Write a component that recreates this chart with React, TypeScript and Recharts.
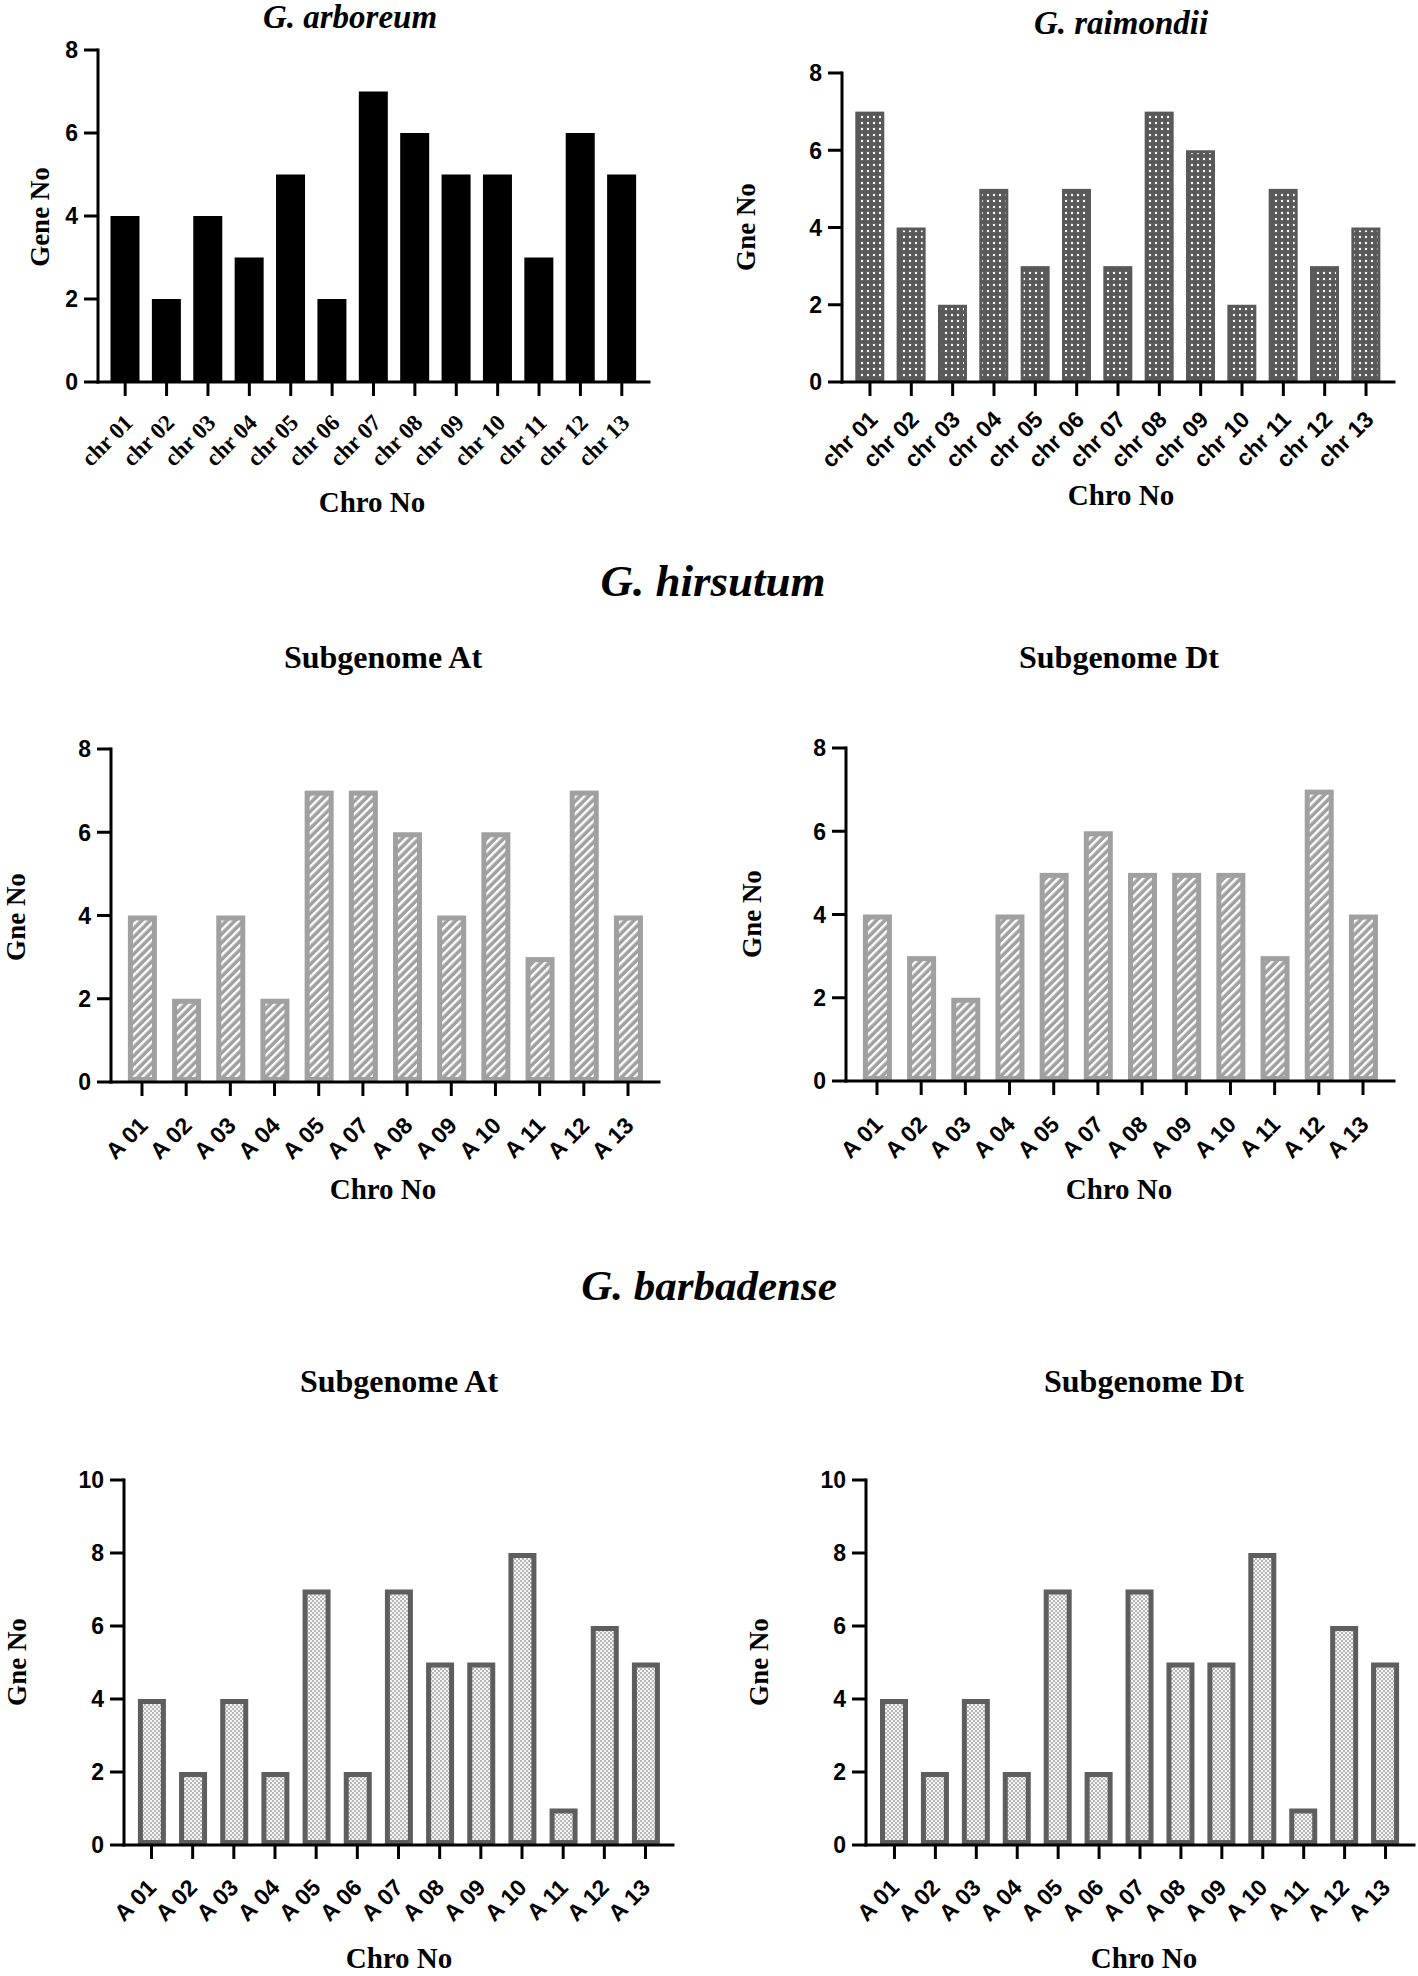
import React from "react";
import { BarChart, Bar, XAxis, YAxis } from "recharts";

// chromosome labels
const chrLabels = ["chr 01", "chr 02", "chr 03", "chr 04", "chr 05", "chr 06", "chr 07", "chr 08", "chr 09", "chr 10", "chr 11", "chr 12", "chr 13"];
const hirsutumLabels = ["A 01", "A 02", "A 03", "A 04", "A 05", "A 07", "A 08", "A 09", "A 10", "A 11", "A 12", "A 13"];
const barbadenseLabels = ["A 01", "A 02", "A 03", "A 04", "A 05", "A 06", "A 07", "A 08", "A 09", "A 10", "A 11", "A 12", "A 13"];

// gene numbers per chromosome
const arboreumGenes = [4, 2, 4, 3, 5, 2, 7, 6, 5, 5, 3, 6, 5];
const raimondiiGenes = [7, 4, 2, 5, 3, 5, 3, 7, 6, 2, 5, 3, 4];
const hirsutumAtGenes = [4, 2, 4, 2, 7, 7, 6, 4, 6, 3, 7, 4];
const hirsutumDtGenes = [4, 3, 2, 4, 5, 6, 5, 5, 5, 3, 7, 4];
const barbadenseAtGenes = [4, 2, 4, 2, 7, 2, 7, 5, 5, 8, 1, 6, 5];
const barbadenseDtGenes = [4, 2, 4, 2, 7, 2, 7, 5, 5, 8, 1, 6, 5];

const ticks8 = [0, 2, 4, 6, 8];
const ticks10 = [0, 2, 4, 6, 8, 10];

const SERIF = '"Liberation Serif", "Times New Roman", serif';
const SANS = '"Liberation Sans", Arial, sans-serif';

type Panel = {
  id: string;
  ox: number;
  oy: number;
  plot: { left: number; right: number; top: number; bottom: number };
  pad: number;
  labels: string[];
  values: number[];
  yMax: number;
  ticks: number[];
  barWidth: number;
  fill: string;
  stroke: string;
  strokeWidth: number;
  tickFont: string;
  labelShift: [number, number];
};

const panels: Panel[] = [
  { id: "arb", ox: 0, oy: 0, plot: { left: 98, right: 649, top: 50, bottom: 382 }, pad: 6.5, labels: chrLabels, values: arboreumGenes, yMax: 8, ticks: ticks8, barWidth: 29, fill: "#000", stroke: "#000", strokeWidth: 0, tickFont: SERIF, labelShift: [9, 26] },
  { id: "rai", ox: 709, oy: 0, plot: { left: 842, right: 1394, top: 73, bottom: 382 }, pad: 7.3, labels: chrLabels, values: raimondiiGenes, yMax: 8, ticks: ticks8, barWidth: 29, fill: "url(#dotsDark)", stroke: "#595959", strokeWidth: 3, tickFont: SANS, labelShift: [9, 23] },
  { id: "hAt", ox: 0, oy: 700, plot: { left: 111, right: 659, top: 749, bottom: 1082 }, pad: 8.9, labels: hirsutumLabels, values: hirsutumAtGenes, yMax: 8, ticks: ticks8, barWidth: 29, fill: "url(#hatch)", stroke: "#a0a0a0", strokeWidth: 5, tickFont: SANS, labelShift: [7, 29] },
  { id: "hDt", ox: 709, oy: 700, plot: { left: 846, right: 1394, top: 748, bottom: 1081 }, pad: 8.9, labels: hirsutumLabels, values: hirsutumDtGenes, yMax: 8, ticks: ticks8, barWidth: 29, fill: "url(#hatch)", stroke: "#a0a0a0", strokeWidth: 5, tickFont: SANS, labelShift: [7, 29] },
  { id: "bAt", ox: 0, oy: 1400, plot: { left: 124, right: 673, top: 1480, bottom: 1845 }, pad: 6.9, labels: barbadenseLabels, values: barbadenseAtGenes, yMax: 10, ticks: ticks10, barWidth: 28, fill: "url(#stipple)", stroke: "#5e5e5e", strokeWidth: 5, tickFont: SANS, labelShift: [6, 28] },
  { id: "bDt", ox: 709, oy: 1400, plot: { left: 866, right: 1414, top: 1480, bottom: 1845 }, pad: 8, labels: barbadenseLabels, values: barbadenseDtGenes, yMax: 10, ticks: ticks10, barWidth: 28, fill: "url(#stipple)", stroke: "#5e5e5e", strokeWidth: 5, tickFont: SANS, labelShift: [6, 28] },
];

type Caption = { text: string; x: number; y: number; size: number; italic?: boolean; rotate?: boolean };

const captions: Caption[] = [
  { text: "G. arboreum", x: 350, y: 17, size: 33, italic: true },
  { text: "G. raimondii", x: 1121, y: 23, size: 33, italic: true },
  { text: "Gene No", x: 40, y: 217, size: 27, rotate: true },
  { text: "Gne No", x: 746, y: 227, size: 27, rotate: true },
  { text: "Chro No", x: 372, y: 502, size: 29 },
  { text: "Chro No", x: 1121, y: 495, size: 29 },
  { text: "G. hirsutum", x: 713, y: 581, size: 45, italic: true },
  { text: "Subgenome At", x: 383, y: 657, size: 32 },
  { text: "Subgenome Dt", x: 1119, y: 657, size: 32 },
  { text: "Gne No", x: 16, y: 917, size: 27, rotate: true },
  { text: "Gne No", x: 752, y: 914, size: 27, rotate: true },
  { text: "Chro No", x: 383, y: 1189, size: 29 },
  { text: "Chro No", x: 1119, y: 1189, size: 29 },
  { text: "G. barbadense", x: 709, y: 1285, size: 43, italic: true },
  { text: "Subgenome At", x: 399, y: 1381, size: 32 },
  { text: "Subgenome Dt", x: 1144, y: 1381, size: 32 },
  { text: "Gne No", x: 17, y: 1662, size: 27, rotate: true },
  { text: "Gne No", x: 759, y: 1662, size: 27, rotate: true },
  { text: "Chro No", x: 399, y: 1958, size: 29 },
  { text: "Chro No", x: 1144, y: 1958, size: 29 },
];

function GenePanel({ p }: { p: Panel }) {
  const data = p.labels.map((name, i) => ({ name, genes: p.values[i] }));
  const w = 709;
  const xAxisH = 100;
  const h = p.plot.bottom - p.oy + xAxisH;
  const sw = p.strokeWidth;
  const [dx, dy] = p.labelShift;

  const renderXTick = (props: any) => {
    const { x, y, payload } = props;
    return (
      <g transform={`translate(${x},${y})`}>
        <text
          textAnchor="end"
          transform={`translate(${dx},${dy}) rotate(-45)`}
          fontFamily={p.tickFont}
          fontWeight="bold"
          fontSize={23}
          fill="#000"
        >
          {payload.value}
        </text>
      </g>
    );
  };

  const renderYTick = (props: any) => {
    const { x, y, payload } = props;
    return (
      <text x={x} y={y} dy="0.36em" textAnchor="end" fontFamily={SANS} fontWeight="bold" fontSize={23} fill="#000">
        {payload.value}
      </text>
    );
  };

  const renderBar = (props: any) => {
    const { x, y, width, height } = props;
    if (!height) return <g />;
    return (
      <rect
        x={x + sw / 2}
        y={y + sw / 2}
        width={Math.max(width - sw, 0)}
        height={Math.max(height - sw, 0)}
        fill={p.fill}
        stroke={sw ? p.stroke : "none"}
        strokeWidth={sw}
      />
    );
  };

  return (
    <div style={{ position: "absolute", left: p.ox, top: p.oy }}>
      <BarChart
        width={w}
        height={h}
        data={data}
        margin={{ top: p.plot.top - p.oy, right: p.ox + w - p.plot.right, left: 0, bottom: 0 }}
      >
        <XAxis
          dataKey="name"
          interval={0}
          height={xAxisH}
          padding={{ left: p.pad, right: p.pad }}
          tickSize={14}
          tickMargin={2}
          tick={renderXTick}
          axisLine={{ stroke: "#000", strokeWidth: 3, strokeLinecap: "square" }}
          tickLine={{ stroke: "#000", strokeWidth: 3 }}
        />
        <YAxis
          type="number"
          width={p.plot.left - p.ox}
          domain={[0, p.yMax]}
          ticks={p.ticks}
          interval={0}
          tickSize={14}
          tickMargin={6}
          tick={renderYTick}
          axisLine={{ stroke: "#000", strokeWidth: 3, strokeLinecap: "square" }}
          tickLine={{ stroke: "#000", strokeWidth: 3 }}
        />
        <Bar dataKey="genes" barSize={p.barWidth} isAnimationActive={false} shape={renderBar} />
      </BarChart>
    </div>
  );
}

export default function App() {
  return (
    <div style={{ position: "relative", width: 1418, height: 1976, background: "#fff", overflow: "hidden" }}>
      <style>{"body{margin:0}"}</style>
      <svg width={0} height={0} style={{ position: "absolute" }}>
        <defs>
          <pattern id="dotsDark" width={6} height={6} patternUnits="userSpaceOnUse">
            <rect width={6} height={6} fill="#595959" />
            <circle cx={3} cy={3} r={1.2} fill="#fff" />
          </pattern>
          <pattern id="hatch" width={6} height={6} patternUnits="userSpaceOnUse" patternTransform="rotate(45)">
            <rect width={6} height={6} fill="#a0a0a0" />
            <rect x={0} y={0} width={2.4} height={6} fill="#fff" />
          </pattern>
          <pattern id="stipple" width={4} height={4} patternUnits="userSpaceOnUse">
            <rect width={4} height={4} fill="#f4f4f4" />
            <circle cx={1} cy={1} r={0.8} fill="#6a6a6a" />
            <circle cx={3} cy={3} r={0.8} fill="#6a6a6a" />
          </pattern>
        </defs>
      </svg>
      {panels.map((p) => (
        <GenePanel key={p.id} p={p} />
      ))}
      {captions.map((c, i) => (
        <div
          key={i}
          style={{
            position: "absolute",
            left: c.x,
            top: c.y,
            transform: `translate(-50%, -50%)${c.rotate ? " rotate(-90deg)" : ""}`,
            fontFamily: SERIF,
            fontWeight: 700,
            fontStyle: c.italic ? "italic" : "normal",
            fontSize: c.size,
            whiteSpace: "nowrap",
            lineHeight: 1,
            color: "#000",
          }}
        >
          {c.text}
        </div>
      ))}
    </div>
  );
}
